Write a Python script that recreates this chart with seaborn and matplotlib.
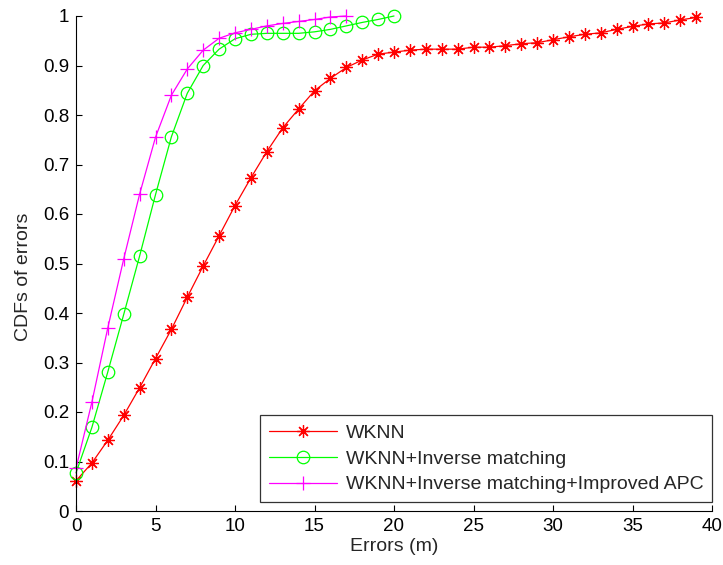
import numpy as np
import pandas as pd
import matplotlib
matplotlib.use("Agg")
import matplotlib.pyplot as plt
import seaborn as sns

# CDF values of positioning errors, one value per metre
wknn = [0.061, 0.097, 0.143, 0.193, 0.249, 0.308, 0.367, 0.432, 0.495, 0.556,
        0.617, 0.673, 0.726, 0.774, 0.812, 0.849, 0.874, 0.896, 0.911, 0.923,
        0.927, 0.931, 0.933, 0.933, 0.933, 0.937, 0.937, 0.940, 0.944, 0.946,
        0.952, 0.958, 0.963, 0.966, 0.973, 0.979, 0.984, 0.986, 0.992, 0.997]
wknn_inv = [0.077, 0.169, 0.281, 0.397, 0.515, 0.639, 0.756, 0.844, 0.900, 0.933,
            0.954, 0.963, 0.965, 0.965, 0.965, 0.968, 0.973, 0.980, 0.987, 0.993,
            1.000]
wknn_inv_apc = [0.086, 0.220, 0.370, 0.509, 0.640, 0.755, 0.840, 0.893, 0.931, 0.955,
                0.966, 0.973, 0.980, 0.985, 0.989, 0.993, 0.998, 1.000]

labels = ["WKNN", "WKNN+Inverse matching", "WKNN+Inverse matching+Improved APC"]
series = [wknn, wknn_inv, wknn_inv_apc]

x_ticks = [0, 5, 10, 15, 20, 25, 30, 35, 40]
y_ticks = [0, 0.1, 0.2, 0.3, 0.4, 0.5, 0.6, 0.7, 0.8, 0.9, 1.0]
y_tick_labels = ["0", "0.1", "0.2", "0.3", "0.4", "0.5", "0.6", "0.7", "0.8", "0.9", "1"]

sns.set_style("white")
plt.rcParams["font.family"] = ["Liberation Sans", "DejaVu Sans"]
FS = 14
TICK_FS = 13.5
plt.rcParams["font.size"] = FS

frames = []
for name, vals in zip(labels, series):
    frames.append(pd.DataFrame({"err": np.arange(len(vals)), "cdf": vals, "method": name}))
df = pd.concat(frames, ignore_index=True)

fig = plt.figure(figsize=(7.23, 5.65), dpi=100)
ax = fig.add_axes([76 / 723, 1 - 511 / 565, 636 / 723, 495 / 565])

styles = {
    labels[0]: dict(color="#ff0000", marker=(8, 2, 0), markersize=9,
                    markeredgecolor="#ff0000", markerfacecolor="#ff0000"),
    labels[1]: dict(color="#00ff00", marker="o", markersize=9,
                    markeredgecolor="#00ff00", markerfacecolor="none"),
    labels[2]: dict(color="#ff00ff", marker="+", markersize=10,
                    markeredgecolor="#ff00ff", markerfacecolor="#ff00ff"),
}

for name in labels:
    sub = df[df["method"] == name]
    sns.lineplot(data=sub, x="err", y="cdf", ax=ax, label=name,
                 linewidth=0.9, markeredgewidth=0.9, clip_on=False,
                 **styles[name])

ax.set_xlim(0, 40)
ax.set_ylim(0, 1)
ax.set_xticks(x_ticks)
ax.set_xticklabels([str(t) for t in x_ticks])
ax.set_yticks(y_ticks)
ax.set_yticklabels(y_tick_labels)
ax.set_xlabel("Errors (m)", fontsize=FS, labelpad=2)
ax.set_ylabel("CDFs of errors", fontsize=FS)
ax.yaxis.set_label_coords(-0.069, 0.473)

for side in ["top", "right"]:
    ax.spines[side].set_visible(False)
for side in ["left", "bottom"]:
    ax.spines[side].set_color("black")
    ax.spines[side].set_linewidth(0.8)
ax.tick_params(direction="in", length=4, width=0.8, colors="black",
               labelsize=TICK_FS, left=True, bottom=True, pad=5)

leg = ax.legend(loc="lower right", bbox_to_anchor=(1.0, 0.018), borderaxespad=0,
                frameon=True, fancybox=False, edgecolor="black", fontsize=FS,
                handlelength=3.5, handletextpad=0.46, labelspacing=0.42,
                borderpad=0.45)
leg.get_frame().set_linewidth(0.9)

fig.savefig("out.png", dpi=100)
